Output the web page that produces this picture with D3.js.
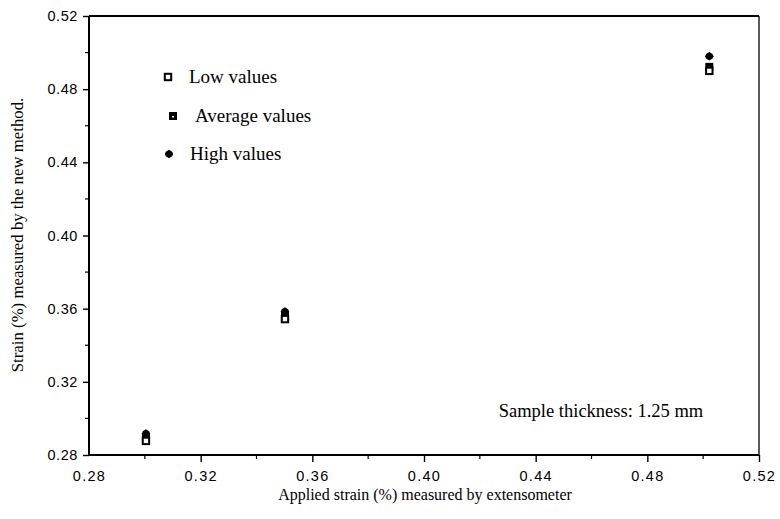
<!DOCTYPE html>
<html>
<head>
<meta charset="utf-8">
<script src="https://cdn.jsdelivr.net/npm/d3@7"></script>
<style>
  html, body { margin: 0; padding: 0; background: #fff; }
  svg { display: block; }
</style>
</head>
<body>
<svg id="chart" width="780" height="519"></svg>
<script>
// Applied strain (extensometer) and strain measured by the new method
const appliedStrain = [0.3004, 0.3502, 0.5022];
const lowValues = [0.2877, 0.3543, 0.4900];
const averageValues = [0.2893, 0.3560, 0.4922];
const highValues = [0.2918, 0.3585, 0.4980];

const xTicks = [0.28, 0.32, 0.36, 0.40, 0.44, 0.48, 0.52];
const yTicks = [0.28, 0.32, 0.36, 0.40, 0.44, 0.48, 0.52];
const legendLabels = ["Low values", "Average values", "High values"];

const svg = d3.select("#chart");
const plotL = 89, plotR = 759, plotT = 16, plotB = 455;

const x = d3.scaleLinear().domain([0.28, 0.52]).range([plotL, plotR]);
const y = d3.scaleLinear().domain([0.28, 0.52]).range([plotB, plotT]);

const tickFont = "'Liberation Sans', Arial, sans-serif";
const serif = "'Liberation Serif', 'Times New Roman', serif";

// Minor ticks halfway between labelled ticks
const minor = d3.range(0.30, 0.52, 0.04);

// Bottom axis
const xAxis = d3.axisBottom(x).tickValues(xTicks).tickFormat(d3.format(".2f"))
  .tickSize(7).tickPadding(9);
const gx = svg.append("g").attr("transform", `translate(0,${plotB})`).call(xAxis);
gx.selectAll(".tick").filter(d => d === 0.28).select("line").remove();
gx.selectAll(".tick line").attr("stroke-width", 1.4);
gx.selectAll("text").attr("font-family", tickFont).attr("font-size", 14.5).attr("fill", "#000")
  .attr("letter-spacing", 1.3);
gx.select(".domain").attr("stroke", "#000").attr("stroke-width", 2).attr("d", `M${plotL},0H${plotR}`);
gx.selectAll(".minor").data(minor).enter().append("line")
  .attr("x1", d => x(d)).attr("x2", d => x(d)).attr("y1", 0).attr("y2", 4)
  .attr("stroke", "#000").attr("stroke-width", 1.2);

// Left axis
const yAxis = d3.axisLeft(y).tickValues(yTicks).tickFormat(d3.format(".2f"))
  .tickSize(6).tickPadding(5);
const gy = svg.append("g").attr("transform", `translate(${plotL},0)`).call(yAxis);
gy.selectAll(".tick line").attr("stroke-width", 1.4);
gy.selectAll("text").attr("font-family", tickFont).attr("font-size", 14.5).attr("fill", "#000")
  .attr("letter-spacing", 0.6);
gy.select(".domain").attr("stroke", "#000").attr("stroke-width", 2).attr("d", `M0,${plotT}V${plotB}`);
gy.selectAll(".minor").data(minor).enter().append("line")
  .attr("x1", -4).attr("x2", 0).attr("y1", d => y(d)).attr("y2", d => y(d))
  .attr("stroke", "#000").attr("stroke-width", 1.2);

// Top and right frame
svg.append("line").attr("x1", plotL).attr("x2", plotR).attr("y1", plotT).attr("y2", plotT)
  .attr("stroke", "#000").attr("stroke-width", 2);
svg.append("line").attr("x1", plotR).attr("x2", plotR).attr("y1", plotT).attr("y2", plotB)
  .attr("stroke", "#000").attr("stroke-width", 1.3);

// Marker drawing helpers
function lowMarker(g, cx, cy) {
  g.append("rect").attr("x", cx - 3.2).attr("y", cy - 3.2).attr("width", 6.4).attr("height", 6.4)
    .attr("fill", "#fff").attr("stroke", "#000").attr("stroke-width", 2);
}
function avgMarker(g, cx, cy) {
  g.append("rect").attr("x", cx - 4).attr("y", cy - 4).attr("width", 8).attr("height", 8)
    .attr("fill", "#000");
  g.append("rect").attr("x", cx - 1).attr("y", cy).attr("width", 2).attr("height", 1.5)
    .attr("fill", "#fff");
}
function highMarker(g, cx, cy) {
  g.append("path").attr("d", "M0,-4.2L3.2,-2.2L4.2,0L3.2,2.2L0,4.2L-3.2,2.2L-4.2,0L-3.2,-2.2Z")
    .attr("transform", `translate(${cx},${cy})`).attr("fill", "#000");
}

const pts = svg.append("g");
appliedStrain.forEach((a, i) => {
  highMarker(pts, x(a), y(highValues[i]));
  avgMarker(pts, x(a), y(averageValues[i]));
  lowMarker(pts, x(a), y(lowValues[i]));
});

// Legend
const legend = svg.append("g");
const legendPos = [[168, 77, 189], [173, 116, 195], [169, 154, 190]];
const markers = [lowMarker, avgMarker, highMarker];
legendLabels.forEach((lab, i) => {
  const [mx, my, tx] = legendPos[i];
  markers[i](legend, mx, my);
  legend.append("text").attr("x", tx).attr("y", my + 6).text(lab)
    .attr("font-family", serif).attr("font-size", 19).attr("fill", "#000");
});

// Annotation
svg.append("text").attr("x", 601).attr("y", 417).attr("text-anchor", "middle")
  .attr("font-family", serif).attr("font-size", 18.5).attr("fill", "#000")
  .text("Sample thickness: 1.25 mm");

// Axis titles
svg.append("text").attr("x", 425).attr("y", 500).attr("text-anchor", "middle")
  .attr("font-family", serif).attr("font-size", 16).attr("fill", "#000")
  .text("Applied strain (%) measured by extensometer");
svg.append("text").attr("transform", "translate(23,235) rotate(-90)").attr("text-anchor", "middle")
  .attr("font-family", serif).attr("font-size", 16.8).attr("fill", "#000")
  .text("Strain (%) measured by the new method.");
</script>
</body>
</html>
